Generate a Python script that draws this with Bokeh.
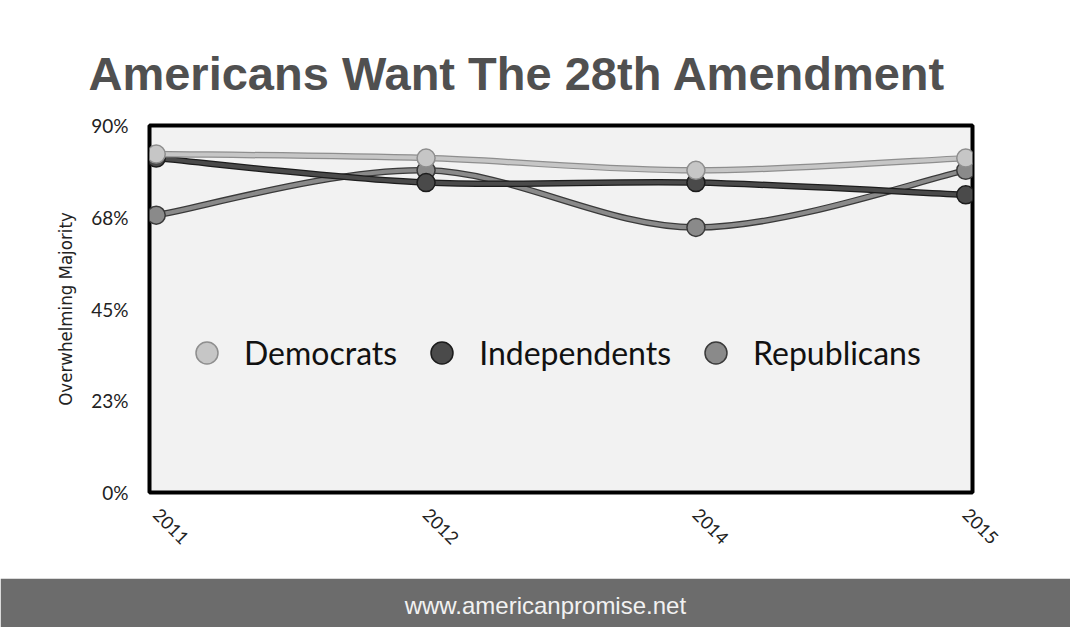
import math
from bokeh.plotting import figure
from bokeh.layouts import column
from bokeh.models import Range1d, FixedTicker, Legend, LegendItem
from bokeh.core.properties import value
from bokeh.embed import file_html
from bokeh.resources import INLINE

# ---------------- data ----------------
years = ["2011", "2012", "2014", "2015"]
democrats = [83, 82, 79, 82]
independents = [82, 76, 76, 73]
republicans = [68, 79, 65, 79]
y_ticks = [0, 22.5, 45, 67.5, 90]
y_tick_labels = ["0%", "23%", "45%", "68%", "90%"]
title_text = "Americans Want The 28th Amendment"
footer_text = "www.americanpromise.net"
y_label = "Overwhelming Majority"

W = 1070

# ---------------- main chart ----------------
xs = list(range(len(years)))
pad = 0.025
p = figure(width=W, height=578, x_range=Range1d(-pad, len(years) - 1 + pad),
           y_range=Range1d(0, 90), output_backend="svg", toolbar_location=None,
           min_border_left=149, min_border_right=98, min_border_top=125, min_border_bottom=86)
p.background_fill_color = "#f2f2f2"
p.border_fill_color = "white"
p.outline_line_color = "black"
p.outline_line_width = 4
p.grid.grid_line_color = None

p.title.text = title_text
p.title.align = "left"
p.title.offset = -61
p.title.standoff = 51
p.title.text_font = "Liberation Sans"
p.title.text_font_style = "bold"
p.title.text_font_size = "47px"
p.title.text_color = "#505050"

p.yaxis.ticker = FixedTicker(ticks=y_ticks)
p.yaxis.major_label_overrides = {tk: lb for tk, lb in zip(y_ticks, y_tick_labels)}
p.xaxis.ticker = FixedTicker(ticks=xs)
p.xaxis.major_label_overrides = {i: y for i, y in enumerate(years)}
p.xaxis.major_label_orientation = -math.pi / 4
for ax in (p.xaxis, p.yaxis):
    ax.axis_line_color = None
    ax.major_tick_line_color = None
    ax.minor_tick_line_color = None
    ax.major_label_text_font = "Lato"
    ax.major_label_text_font_size = "19px"
    ax.major_label_text_color = "#222222"
p.yaxis.major_label_standoff = 15
p.xaxis.major_label_standoff = 13
p.xaxis.major_label_text_font_size = "18px"
p.yaxis.axis_label = y_label
p.yaxis.axis_label_text_font = "DejaVu Sans Condensed"
p.yaxis.axis_label_text_font_style = "normal"
p.yaxis.axis_label_text_font_size = "18.5px"
p.yaxis.axis_label_text_color = "#222222"
p.yaxis.axis_label_standoff = 12


def smooth(vals):
    n = len(vals)
    x0, y0, x1, y1, cx0, cy0, cx1, cy1 = [], [], [], [], [], [], [], []
    for i in range(n - 1):
        im = max(i - 1, 0)
        ip = min(i + 2, n - 1)
        x0.append(xs[i]); y0.append(vals[i])
        x1.append(xs[i + 1]); y1.append(vals[i + 1])
        cx0.append(xs[i] + (xs[i + 1] - xs[im]) / 6.0)
        cy0.append(vals[i] + (vals[i + 1] - vals[im]) / 6.0)
        cx1.append(xs[i + 1] - (xs[ip] - xs[i]) / 6.0)
        cy1.append(vals[i + 1] - (vals[ip] - vals[i]) / 6.0)
    return dict(x0=x0, y0=y0, x1=x1, y1=y1, cx0=cx0, cy0=cy0, cx1=cx1, cy1=cy1)


series = [
    ("Republicans", republicans, "#8a8a8a", "#3a3a3a"),
    ("Independents", independents, "#4a4a4a", "#1c1c1c"),
    ("Democrats", democrats, "#c6c6c6", "#8e8e8e"),
]
legend_renderers = {}
for name, vals, core, edge in series:
    b = smooth(vals)
    p.bezier(line_color=edge, line_width=6.5, **b)
    p.bezier(line_color=core, line_width=4, **b)
    r = p.scatter(xs, vals, size=18, fill_color=core, line_color=edge, line_width=1.5)
    legend_renderers[name] = r

legend = Legend(items=[LegendItem(label=n, renderers=[legend_renderers[n]])
                       for n in ["Democrats", "Independents", "Republicans"]],
                orientation="horizontal", location=(30, 112),
                label_text_font="Lato", label_text_font_size="32px", label_text_color="#111111",
                glyph_width=55, glyph_height=55, label_standoff=10, spacing=17,
                padding=0, margin=0, background_fill_alpha=0, border_line_color=None)
p.add_layout(legend, "center")

# ---------------- footer ----------------
band = "#6c6c6c"
f = figure(width=W, height=49, x_range=Range1d(0, 1), y_range=Range1d(0, 1),
           output_backend="svg", toolbar_location=None,
           min_border_left=0, min_border_right=0, min_border_top=4, min_border_bottom=4)
f.axis.visible = False
f.grid.visible = False
f.background_fill_color = band
f.border_fill_color = band
f.outline_line_color = band
f.outline_line_width = 4
f.text(x=[0.481], y=[0.44], text=[footer_text], text_align="center", text_baseline="middle",
       text_font=value("Liberation Sans"), text_font_size="24px", text_color="#f2f2f2")

layout = column(p, f, spacing=0)
open("out.html", "w").write(file_html(layout, INLINE))
